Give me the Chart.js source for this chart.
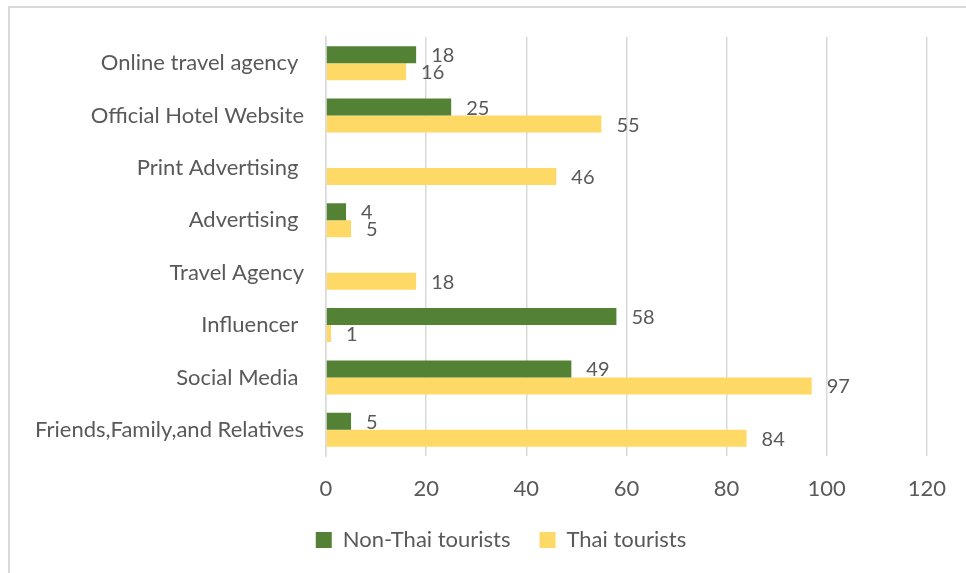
<!DOCTYPE html>
<html>
<head>
<meta charset="utf-8">
<script src="https://cdn.jsdelivr.net/npm/chart.js@4/dist/chart.umd.min.js"></script>
<style>
  html, body { margin: 0; padding: 0; background: #fff; }
  #wrap { position: relative; width: 966px; height: 573px; }
  #frame { position: absolute; left: 8px; top: 6px; width: 980px; height: 600px; border: 2px solid #d9d9d9; box-sizing: border-box; }
  canvas { position: absolute; left: 0; top: 0; }
</style>
</head>
<body>
<div id="wrap">
  <div id="frame"></div>
  <canvas id="sourceChart" width="966" height="573"></canvas>
</div>
<script>
let categories = ['Online travel agency ', 'Official Hotel Website', 'Print Advertising ', 'Advertising ',
  'Travel Agency', 'Influencer ', 'Social Media ', 'Friends,Family,and Relatives'];
let nonThai = [18, 25, null, 4, null, 58, 49, 5];
let thai = [16, 55, 46, 5, 18, 1, 97, 84];
let xTicks = [0, 20, 40, 60, 80, 100, 120];

const textColor = '#595959';
const fontFamily = 'Lato, "Open Sans", sans-serif';

// value labels just past the end of each bar
const barValues = {
  id: 'barValues',
  afterDatasetsDraw(chart) {
    const ctx = chart.ctx;
    ctx.save();
    ctx.font = '20px ' + fontFamily;
    ctx.fillStyle = textColor;
    ctx.textAlign = 'left';
    ctx.textBaseline = 'middle';
    chart.data.datasets.forEach((ds, i) => {
      chart.getDatasetMeta(i).data.forEach((bar, j) => {
        const v = ds.data[j];
        if (v === null || v === undefined) return;
        ctx.fillText(String(v), bar.x + 15, bar.y + 1);
      });
    });
    ctx.restore();
  }
};

// shift the legend row so it sits centred under the whole chart
const legendPlace = {
  id: 'legendPlace',
  afterLayout(chart) {
    const lg = chart.legend;
    if (!lg) return;
    const h = lg.height;
    lg.left = 72;
    lg.right = 930;
    lg.width = lg.right - lg.left;
    lg.top = 500;
    lg.bottom = lg.top + h;
  }
};

let myChart = document.getElementById('sourceChart').getContext('2d');

let newChart = new Chart(myChart, {
  type: 'bar',
  data: {
    labels: categories,
    datasets: [{
      label: 'Non-Thai tourists',
      data: nonThai,
      backgroundColor: '#548235',
      barPercentage: 1,
      categoryPercentage: 0.65,
    }, {
      label: 'Thai tourists',
      data: thai,
      backgroundColor: '#FFD966',
      barPercentage: 1,
      categoryPercentage: 0.65,
    }]
  },
  plugins: [barValues, legendPlace],
  options: {
    indexAxis: 'y',
    responsive: false,
    animation: false,
    layout: {
      padding: { top: 37, right: 36, bottom: 11, left: 0 }
    },
    plugins: {
      legend: {
        display: true,
        position: 'bottom',
        labels: {
          color: textColor,
          boxWidth: 16,
          boxHeight: 16,
          padding: 29,
          font: { family: fontFamily, size: 22 }
        }
      },
      tooltip: { enabled: false },
    },
    scales: {
      x: {
        min: 0,
        max: 120,
        afterBuildTicks(axis) {
          axis.ticks = xTicks.map(v => ({ value: v }));
        },
        afterFit(axis) { axis.height = 45; },
        grid: {
          display: true,
          color: '#d9d9d9',
          lineWidth: 1.5,
          drawTicks: false,
        },
        border: { display: false },
        ticks: {
          color: textColor,
          padding: 20,
          font: { family: fontFamily, size: 22 }
        }
      },
      y: {
        afterFit(axis) { axis.width = 326; },
        grid: { display: false, drawTicks: false },
        border: { display: true, color: '#d9d9d9', width: 1.5 },
        ticks: {
          color: textColor,
          padding: 22,
          font: { family: fontFamily, size: 22 }
        }
      },
    },
  }
});
</script>
</body>
</html>
